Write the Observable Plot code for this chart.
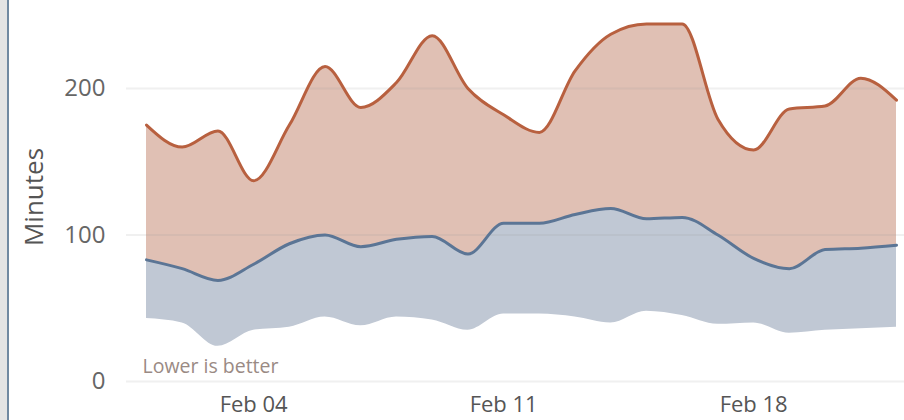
<!DOCTYPE html>
<html>
<head>
<meta charset="utf-8">
<script src="https://cdn.jsdelivr.net/npm/d3@7"></script>
<script src="https://cdn.jsdelivr.net/npm/@observablehq/plot@0.6"></script>
<style>
  html, body { margin: 0; padding: 0; background: #fff; }
  #wrap { position: relative; width: 904px; height: 420px; overflow: hidden; }
  #strip { position: absolute; left: 0; top: 0; width: 7px; height: 420px; background: #e4e4e4; border-right: 2px solid #7189a1; }
  #chart { position: absolute; left: 0; top: 0; }
</style>
</head>
<body>
<div id="wrap"><div id="strip"></div><div id="chart"></div></div>
<script>
const dates = ["2024-02-01","2024-02-02","2024-02-03","2024-02-04","2024-02-05","2024-02-06","2024-02-07","2024-02-08","2024-02-09","2024-02-10","2024-02-11","2024-02-12","2024-02-13","2024-02-14","2024-02-15","2024-02-16","2024-02-17","2024-02-18","2024-02-19","2024-02-20","2024-02-21","2024-02-22"];
const upper = [175, 160, 171, 137, 175, 215, 187, 204, 236, 200, 182, 170, 212, 237, 244, 244, 179, 158, 186, 188, 207, 192];
const middle = [83, 77, 69, 80, 94, 100, 92, 97, 99, 87, 108, 108, 114, 118, 111, 112, 100, 84, 77, 90, 91, 93];
const lower = [43, 40, 24, 35, 37, 44, 38, 44, 42, 35, 46, 46, 44, 40, 48, 45, 39, 40, 33, 35, 36, 37];
const yTicks = [0, 100, 200];
const xTicks = ["2024-02-04", "2024-02-11", "2024-02-18"];

const parse = d3.utcParse("%Y-%m-%d");
const data = dates.map((d, i) => ({date: parse(d), upper: upper[i], middle: middle[i], lower: lower[i]}));
const font = "'Open Sans', 'Noto Sans', sans-serif";

const chart = Plot.plot({
  width: 904,
  height: 420,
  marginLeft: 146,
  marginRight: 8,
  marginTop: 0,
  marginBottom: 39,
  style: {fontFamily: font, background: "transparent", overflow: "visible"},
  x: {type: "utc", domain: [parse(dates[0]), parse(dates[dates.length - 1])]},
  y: {domain: [0, 260]},
  marks: [
    Plot.areaY(data, {x: "date", y1: "middle", y2: "upper", fill: "#e0c0b4", curve: "monotone-x"}),
    Plot.areaY(data, {x: "date", y1: "lower", y2: "middle", fill: "#c0c8d4", curve: "monotone-x"}),
    Plot.ruleY(yTicks, {stroke: "#999", strokeOpacity: 0.15, strokeWidth: 2, insetLeft: -20, insetRight: -8}),
    Plot.lineY(data, {x: "date", y: "upper", stroke: "#b8603f", strokeWidth: 3, curve: "monotone-x"}),
    Plot.lineY(data, {x: "date", y: "middle", stroke: "#5b7595", strokeWidth: 3, curve: "monotone-x"}),
    Plot.axisY({ticks: yTicks, tickSize: 0, tickPadding: 41, fontSize: 24, color: "#666", label: null}),
    Plot.axisX({ticks: xTicks.map(parse), tickFormat: d3.utcFormat("%b %d"), tickSize: 0, tickPadding: 15, fontSize: 22, color: "#555", label: null}),
    Plot.text(["Minutes"], {frameAnchor: "left", dx: -112, dy: 6, rotate: -90, fontSize: 26, fill: "#555", textAnchor: "middle"}),
    Plot.text(["Lower is better"], {frameAnchor: "bottom-left", dx: -4, dy: -9, textAnchor: "start", lineAnchor: "bottom", fontSize: 19.5, fill: "#9a8a84"})
  ]
});
document.getElementById("chart").appendChild(chart);
</script>
</body>
</html>
